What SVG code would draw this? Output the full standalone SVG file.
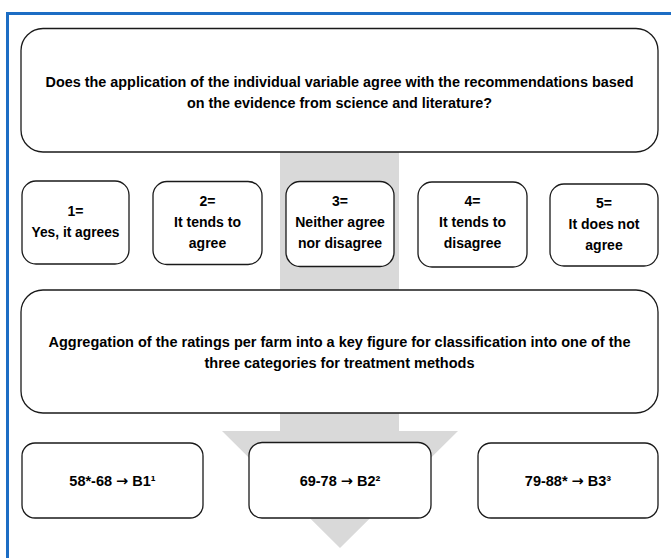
<svg xmlns="http://www.w3.org/2000/svg" width="671" height="558" viewBox="0 0 671 558">
<style>
.box{fill:#fff;stroke:#1a1a1a;stroke-width:1.3}
.t{font-family:"Liberation Sans",Arial,sans-serif;font-weight:bold;font-size:14px;fill:#000;text-anchor:middle}
.big{font-size:14.5px}
.arr{font-family:"DejaVu Sans",sans-serif;font-weight:bold}
.band{fill:#d9d9d9}
</style>
<rect x="0" y="0" width="671" height="558" fill="#fff"/>
<rect id="frame" x="7.5" y="13.5" width="700" height="600" fill="none" stroke="#1c6dc4" stroke-width="3"/>
<g id="connectors">
<rect class="band" x="280" y="150" width="119" height="142"/>
<polygon class="band" points="280,411 399,411 399,431 458,431 340,548 222,431 280,431"/>
</g>
<g id="question">
<rect class="box" x="21" y="28.5" width="637" height="123.5" rx="22"/>
<text class="t"><tspan x="339.5" y="87" textLength="588" lengthAdjust="spacingAndGlyphs">Does the application of the individual variable agree with the recommendations based</tspan><tspan x="339.5" y="108" textLength="305" lengthAdjust="spacingAndGlyphs">on the evidence from science and literature?</tspan></text>
</g>
<g id="r1">
<rect class="box" x="22" y="181" width="107" height="83" rx="14"/>
<text class="t"><tspan x="75.5" y="216">1=</tspan><tspan x="75.5" y="237" textLength="88" lengthAdjust="spacingAndGlyphs">Yes, it agrees</tspan></text>
</g>
<g id="r2">
<rect class="box" x="153" y="181.5" width="109" height="83" rx="14"/>
<text class="t"><tspan x="207.5" y="206">2=</tspan><tspan x="207.5" y="227">It tends to</tspan><tspan x="207.5" y="248">agree</tspan></text>
</g>
<g id="r3">
<rect class="box" x="286" y="181.5" width="108" height="85" rx="14"/>
<text class="t"><tspan x="340" y="206">3=</tspan><tspan x="340" y="227">Neither agree</tspan><tspan x="340" y="248">nor disagree</tspan></text>
</g>
<g id="r4">
<rect class="box" x="418" y="182" width="109" height="85" rx="14"/>
<text class="t"><tspan x="472.5" y="206">4=</tspan><tspan x="472.5" y="227">It tends to</tspan><tspan x="472.5" y="248">disagree</tspan></text>
</g>
<g id="r5">
<rect class="box" x="550" y="184" width="108" height="82" rx="14"/>
<text class="t"><tspan x="604" y="208">5=</tspan><tspan x="604" y="229">It does not</tspan><tspan x="604" y="250">agree</tspan></text>
</g>
<g id="aggregation">
<rect class="box" x="21" y="290" width="637" height="123" rx="22"/>
<text class="t"><tspan x="339.5" y="347" textLength="582" lengthAdjust="spacingAndGlyphs">Aggregation of the ratings per farm into a key figure for classification into one of the</tspan><tspan x="339.5" y="368" textLength="270" lengthAdjust="spacingAndGlyphs">three categories for treatment methods</tspan></text>
</g>
<g id="b1">
<rect class="box" x="22" y="443" width="181" height="75" rx="13"/>
<text class="t big" x="112.5" y="486">58*-68 <tspan class="arr">→</tspan> B1¹</text>
</g>
<g id="b2">
<rect class="box" x="249" y="442.5" width="182" height="75.5" rx="13"/>
<text class="t big" x="340" y="486">69-78 <tspan class="arr">→</tspan> B2²</text>
</g>
<g id="b3">
<rect class="box" x="478" y="443" width="180" height="75" rx="13"/>
<text class="t big" x="568" y="486">79-88* <tspan class="arr">→</tspan> B3³</text>
</g>
</svg>
